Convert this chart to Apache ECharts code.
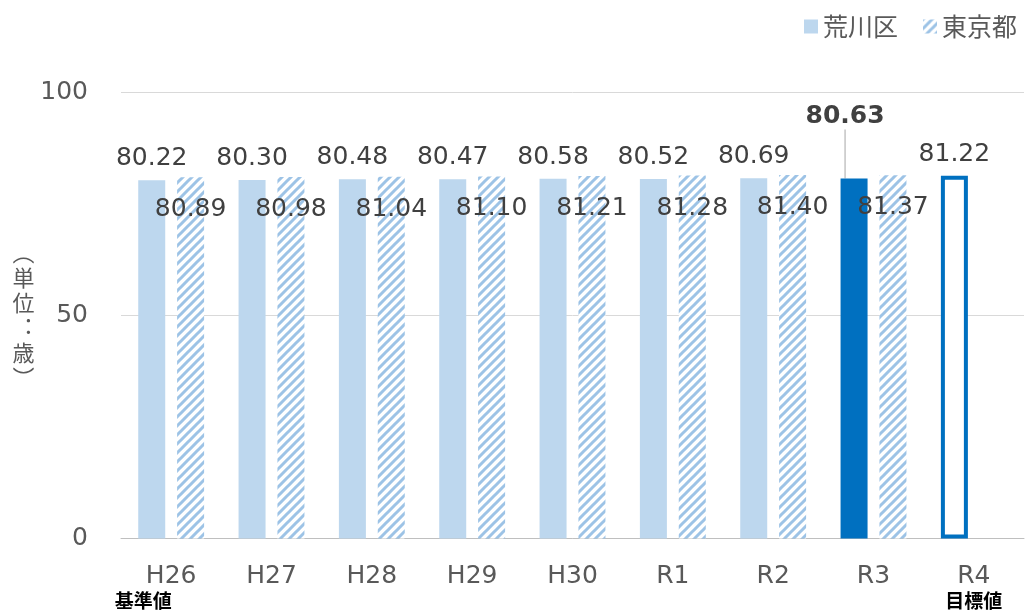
<!DOCTYPE html>
<html>
<head>
<meta charset="utf-8">
<script src="https://cdn.jsdelivr.net/npm/echarts@6/dist/echarts.min.js"></script>
<style>
  html, body { margin: 0; padding: 0; background: #fff; }
  #chart { width: 1025px; height: 610px; }
</style>
</head>
<body>
<div id="chart"></div>
<script>
// 平均自立期間（年度別）
const categories = ['H26', 'H27', 'H28', 'H29', 'H30', 'R1', 'R2', 'R3', 'R4'];
const subLabels = { H26: '基準値', R4: '目標値' };
const arakawa = [80.22, 80.30, 80.48, 80.47, 80.58, 80.52, 80.69, 80.63, 81.22];
const tokyo = [80.89, 80.98, 81.04, 81.10, 81.21, 81.28, 81.40, 81.37, null];
const yTicks = { min: 0, max: 100, interval: 50 };

const LATIN = '"DejaVu Sans", "Noto Sans CJK JP", sans-serif';
const CJK = '"Noto Sans CJK JP", "DejaVu Sans", sans-serif';
const LIGHT = '#BDD7EE';
const DARK = '#0070C0';
const STRIPE = '#9DC3E6';
const LATEST = 'R3';
const TARGET = 'R4';

// diagonal hatch tile for the Tokyo series
function hatchPattern() {
  const s = 9;
  const c = document.createElement('canvas');
  c.width = s; c.height = s;
  const g = c.getContext('2d');
  g.fillStyle = '#fff';
  g.fillRect(0, 0, s, s);
  g.strokeStyle = STRIPE;
  g.lineWidth = 3;
  g.beginPath();
  g.moveTo(-2, s + 2); g.lineTo(s + 2, -2);
  g.moveTo(-2, 2); g.lineTo(2, -2);
  g.moveTo(s - 2, s + 2); g.lineTo(s + 2, s - 2);
  g.stroke();
  return { image: c, repeat: 'repeat' };
}

const arakawaData = arakawa.map((v, i) => {
  const cat = categories[i];
  if (cat === LATEST) {
    return {
      value: v,
      itemStyle: { color: DARK },
      label: { fontWeight: 'bold', color: '#404040' },
      labelLine: { show: true, lineStyle: { color: '#A6A6A6', width: 1 } }
    };
  }
  if (cat === TARGET) {
    return {
      value: v,
      itemStyle: { color: '#fff', borderColor: DARK, borderWidth: 4 }
    };
  }
  return v;
});

const chart = echarts.init(document.getElementById('chart'), null, { renderer: 'canvas' });

chart.setOption({
  animation: false,
  textStyle: { fontFamily: LATIN },
  legend: {
    right: 3,
    top: 9,
    itemWidth: 14,
    itemHeight: 14,
    itemGap: 25,
    icon: 'rect',
    textStyle: { fontSize: 25, color: '#595959', fontFamily: CJK },
    data: ['荒川区', '東京都']
  },
  grid: { left: 121, right: 1, top: 92, bottom: 70, containLabel: false },
  xAxis: {
    type: 'category',
    data: categories,
    axisTick: { show: false },
    axisLine: { lineStyle: { color: '#BFBFBF', width: 1 } },
    axisLabel: {
      margin: 25,
      interval: 0,
      formatter: (v) => {
        const sub = subLabels[v];
        if (!sub) return '{a|' + v + '}';
        return '{a|' + v + '}\n{' + (v === 'H26' ? 'l' : 'b') + '|' + sub + '}';
      },
      rich: {
        a: { fontSize: 25, color: '#595959', lineHeight: 26, fontFamily: LATIN },
        b: { fontSize: 19, fontWeight: 'bold', color: '#000', lineHeight: 22, fontFamily: CJK },
        l: { fontSize: 19, fontWeight: 'bold', color: '#000', lineHeight: 22, fontFamily: CJK, padding: [0, 56, 0, 0] }
      }
    }
  },
  yAxis: {
    type: 'value',
    min: yTicks.min,
    max: yTicks.max,
    interval: yTicks.interval,
    name: '︵\n単\n位\n︓\n歳\n︶',
    nameLocation: 'middle',
    nameRotate: 0,
    nameGap: 85,
    nameTextStyle: { fontSize: 22, color: '#595959', lineHeight: 25, fontFamily: CJK },
    axisLine: { show: false },
    axisTick: { show: false },
    axisLabel: { margin: 33, fontSize: 25, color: '#595959', fontFamily: LATIN },
    splitLine: { lineStyle: { color: '#D9D9D9', width: 1 } }
  },
  series: [
    {
      name: '荒川区',
      type: 'bar',
      barWidth: 27,
      barGap: '44%',
      itemStyle: { color: LIGHT },
      data: arakawaData,
      label: {
        show: true,
        position: 'top',
        distance: 9,
        fontSize: 25,
        color: '#404040',
        fontFamily: LATIN,
        formatter: (p) => p.value.toFixed(2)
      },
      labelLayout: (p) => (categories[p.dataIndex] === LATEST ? { dx: -9, dy: -40 } : {})
    },
    {
      name: '東京都',
      type: 'bar',
      barWidth: 27,
      itemStyle: { color: hatchPattern() },
      data: tokyo,
      label: {
        show: true,
        position: 'insideTop',
        distance: 20,
        fontSize: 25,
        color: '#404040',
        fontFamily: LATIN,
        formatter: (p) => (p.value == null ? '' : p.value.toFixed(2))
      }
    }
  ]
});
</script>
</body>
</html>
